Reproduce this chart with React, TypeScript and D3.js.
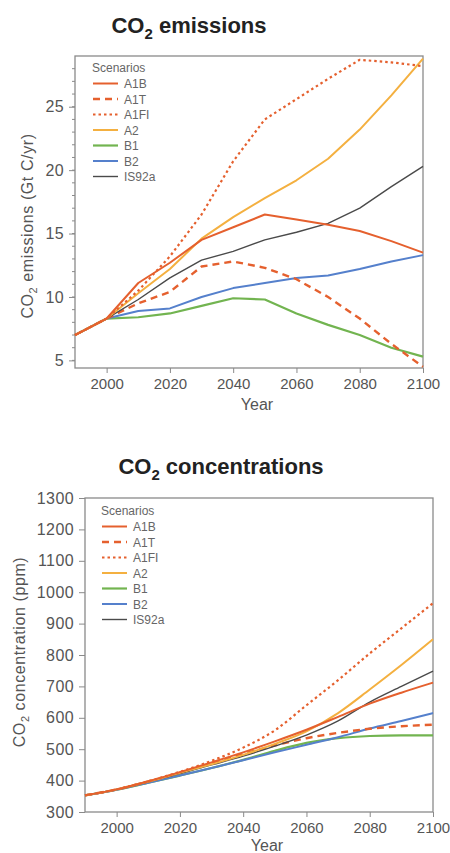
import React, { useEffect, useRef } from 'react';
import * as d3 from 'd3';

// Years sampled for both panels
const years = [1990, 2000, 2010, 2020, 2030, 2040, 2050, 2060, 2070, 2080, 2090, 2100];
const scenarios = ['A1B', 'A1T', 'A1FI', 'A2', 'B1', 'B2', 'IS92a'];

// CO2 emissions (Gt C/yr)
const emA1B = [7.0, 8.3, 11.1, 12.7, 14.5, 15.5, 16.5, 16.1, 15.7, 15.2, 14.4, 13.5];
const emA1T = [7.0, 8.3, 9.5, 10.4, 12.4, 12.8, 12.3, 11.4, 10.0, 8.3, 6.3, 4.5];
const emA1FI = [7.0, 8.3, 10.5, 13.2, 16.5, 20.7, 24.0, 25.6, 27.2, 28.7, 28.5, 28.2];
const emA2 = [7.0, 8.3, 10.3, 12.2, 14.6, 16.3, 17.8, 19.2, 20.9, 23.2, 25.9, 28.8];
const emB1 = [7.0, 8.3, 8.4, 8.7, 9.3, 9.9, 9.8, 8.7, 7.8, 7.0, 6.0, 5.3];
const emB2 = [7.0, 8.3, 8.9, 9.1, 10.0, 10.7, 11.1, 11.5, 11.7, 12.2, 12.8, 13.3];
const emIS92a = [7.0, 8.3, 9.8, 11.5, 12.9, 13.6, 14.5, 15.1, 15.8, 17.0, 18.7, 20.3];

// CO2 concentrations (ppm)
const ccA1B = [353, 372, 398, 427, 458, 490, 525, 562, 603, 645, 680, 712];
const ccA1T = [353, 372, 397, 425, 455, 485, 512, 535, 552, 565, 573, 578];
const ccA1FI = [353, 372, 398, 428, 463, 505, 560, 640, 720, 805, 885, 965];
const ccA2 = [353, 372, 397, 425, 452, 482, 517, 557, 615, 690, 768, 850];
const ccB1 = [353, 371, 393, 416, 440, 466, 495, 520, 535, 542, 544, 544];
const ccB2 = [353, 371, 393, 416, 440, 465, 490, 514, 538, 566, 590, 615];
const ccIS92a = [353, 372, 396, 422, 450, 478, 510, 545, 590, 650, 700, 749];

const yearTicks = [2000, 2020, 2040, 2060, 2080, 2100];
const emissionTicks = [5, 10, 15, 20, 25];
const emissionMinorTicks = d3.range(5, 29, 1);
const concentrationTicks = [300, 400, 500, 600, 700, 800, 900, 1000, 1100, 1200, 1300];

const emissionSeries = [emA1B, emA1T, emA1FI, emA2, emB1, emB2, emIS92a];
const concentrationSeries = [ccA1B, ccA1T, ccA1FI, ccA2, ccB1, ccB2, ccIS92a];

const styles: Record<string, { color: string; dash: string | null; width: number }> = {
  A1B: { color: '#e5602e', dash: null, width: 2 },
  A1T: { color: '#e5602e', dash: '7,5', width: 2.4 },
  A1FI: { color: '#e5602e', dash: '2.5,3', width: 2.2 },
  A2: { color: '#f4b040', dash: null, width: 2 },
  B1: { color: '#72b450', dash: null, width: 2.2 },
  B2: { color: '#5580cc', dash: null, width: 2 },
  IS92a: { color: '#4a4a4a', dash: null, width: 1.4 },
};

const FONT = '"Liberation Sans", Arial, sans-serif';

interface Panel {
  left: number;
  right: number;
  top: number;
  bottom: number;
  yDomain: [number, number];
  yTicks: number[];
  yMinor: number[];
  series: number[][];
  curve: d3.CurveFactory;
  title: string;
  titleX: number;
  titleY: number;
  ylabel: string;
  ylabelX: number;
  ylabelY: number;
  xlabelY: number;
  legendX: number;
  legendY: number;
}

function co2Text(sel: d3.Selection<SVGTextElement, unknown, null, undefined>, rest: string, size: number) {
  sel.append('tspan').text('CO');
  sel.append('tspan').text('2').attr('font-size', size * 0.68).attr('dy', size * 0.28);
  sel.append('tspan').text(rest).attr('dy', -size * 0.28);
}

function drawPanel(root: d3.Selection<SVGSVGElement, unknown, null, undefined>, p: Panel) {
  const g = root.append('g');
  const x = d3.scaleLinear().domain([1990, 2100]).range([p.left, p.right]);
  const y = d3.scaleLinear().domain(p.yDomain).range([p.bottom, p.top]);
  const axisColor = '#8a8a8a';

  // frame
  g.append('rect')
    .attr('x', p.left).attr('y', p.top)
    .attr('width', p.right - p.left).attr('height', p.bottom - p.top)
    .attr('fill', 'none').attr('stroke', axisColor).attr('stroke-width', 1.3);

  // x axis
  const xAxis = d3.axisBottom(x).tickValues(yearTicks).tickSize(5).tickPadding(5).tickFormat(d3.format('d'));
  const xg = g.append('g').attr('transform', `translate(0,${p.bottom})`).call(xAxis);
  xg.select('.domain').remove();
  xg.selectAll('line').attr('stroke', axisColor);
  xg.selectAll('text').attr('font-family', FONT).attr('font-size', 15).attr('fill', '#555');

  // y minor ticks
  g.selectAll('.minor').data(p.yMinor).enter().append('line')
    .attr('x1', p.left - 3).attr('x2', p.left)
    .attr('y1', d => y(d)).attr('y2', d => y(d))
    .attr('stroke', axisColor);

  const yAxis = d3.axisLeft(y).tickValues(p.yTicks).tickSize(6).tickPadding(5).tickFormat(d3.format('d'));
  const yg = g.append('g').attr('transform', `translate(${p.left},0)`).call(yAxis);
  yg.select('.domain').remove();
  yg.selectAll('line').attr('stroke', axisColor);
  yg.selectAll('text').attr('font-family', FONT).attr('font-size', 16)
    .attr('letter-spacing', 0.4).attr('fill', '#555');

  // lines
  const line = d3.line<number>()
    .x((_, i) => x(years[i]))
    .y(d => y(d))
    .curve(p.curve);

  // draw in back-to-front order
  const order = [4, 5, 1, 6, 3, 0, 2];
  order.forEach(i => {
    const st = styles[scenarios[i]];
    g.append('path')
      .attr('d', line(p.series[i]))
      .attr('fill', 'none')
      .attr('stroke', st.color)
      .attr('stroke-width', st.width)
      .attr('stroke-dasharray', st.dash)
      .attr('stroke-linejoin', 'round');
  });

  // legend
  const lg = g.append('g').attr('transform', `translate(${p.legendX},${p.legendY})`)
    .attr('font-family', FONT).attr('font-size', 12).attr('fill', '#666');
  lg.append('text').attr('x', 0).attr('y', 4).text('Scenarios');
  scenarios.forEach((s, i) => {
    const st = styles[s];
    const yy = 15.5 * (i + 1);
    lg.append('line')
      .attr('x1', 1).attr('x2', 26).attr('y1', yy).attr('y2', yy)
      .attr('stroke', st.color).attr('stroke-width', st.width)
      .attr('stroke-dasharray', st.dash);
    lg.append('text').attr('x', 32).attr('y', yy + 4.5).text(s);
  });

  // title
  const t = g.append('text')
    .attr('x', p.titleX).attr('y', p.titleY)
    .attr('text-anchor', 'middle')
    .attr('font-family', FONT).attr('font-weight', 'bold').attr('font-size', 22).attr('fill', '#222');
  co2Text(t, p.title, 22);

  // y label
  const yl = g.append('text')
    .attr('transform', `translate(${p.ylabelX},${p.ylabelY}) rotate(-90)`)
    .attr('text-anchor', 'middle')
    .attr('font-family', FONT).attr('font-size', 16).attr('letter-spacing', 0.6).attr('fill', '#555');
  co2Text(yl, p.ylabel, 16);

  // x label
  g.append('text')
    .attr('x', (p.left + p.right) / 2 + 8).attr('y', p.xlabelY)
    .attr('text-anchor', 'middle')
    .attr('font-family', FONT).attr('font-size', 16).attr('fill', '#555')
    .text('Year');
}

export default function App() {
  const svgRef = useRef<SVGSVGElement>(null);

  useEffect(() => {
    if (!svgRef.current) return;
    const svg = d3.select(svgRef.current);
    svg.selectAll('*').remove();

    drawPanel(svg, {
      left: 75, right: 423, top: 56, bottom: 368,
      yDomain: [4.4, 29], yTicks: emissionTicks, yMinor: emissionMinorTicks,
      series: emissionSeries, curve: d3.curveLinear,
      title: ' emissions', titleX: 189, titleY: 33,
      ylabel: ' emissions (Gt C/yr)', ylabelX: 33, ylabelY: 226,
      xlabelY: 410, legendX: 92, legendY: 68,
    });

    drawPanel(svg, {
      left: 85, right: 433, top: 498, bottom: 812,
      yDomain: [300, 1300], yTicks: concentrationTicks, yMinor: [],
      series: concentrationSeries, curve: d3.curveMonotoneX,
      title: ' concentrations', titleX: 221, titleY: 474,
      ylabel: ' concentration (ppm)', ylabelX: 25, ylabelY: 652,
      xlabelY: 851, legendX: 101, legendY: 511,
    });
  }, []);

  return (
    <svg
      ref={svgRef}
      width={450}
      height={853}
      style={{ position: 'absolute', left: 0, top: 0, background: '#fff' }}
    />
  );
}
